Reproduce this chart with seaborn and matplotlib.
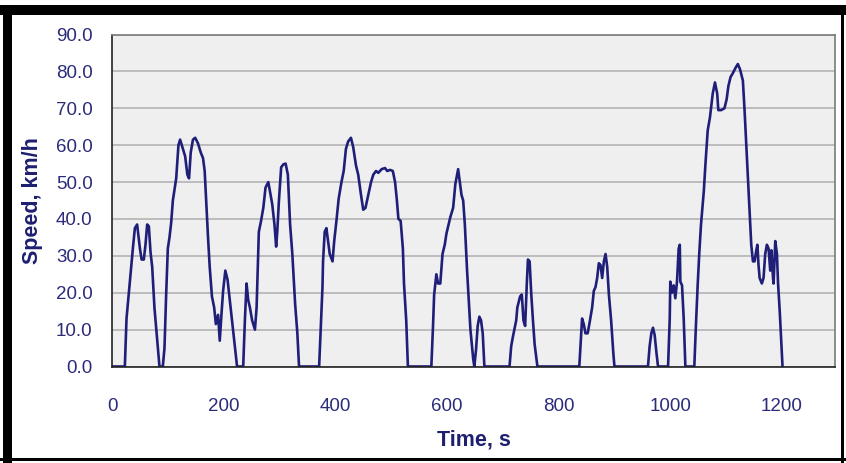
import matplotlib
matplotlib.use("Agg")
import matplotlib.pyplot as plt
import seaborn as sns
import pandas as pd
from matplotlib.patches import Rectangle

# Data (time in s, speed in km/h)
time_s = [0, 23, 26, 32, 38, 41, 45, 47, 50, 53, 57, 60, 63, 66, 69, 72, 76, 81, 85, 91,
          94, 97, 100, 103, 106, 109, 115, 119, 122, 127, 131, 135, 138, 141, 145, 149, 154, 159, 163, 166,
          169, 172, 175, 179, 183, 186, 190, 193, 196, 199, 203, 207, 211, 215, 220, 224, 235, 238, 241, 244,
          247, 251, 256, 259, 261, 263, 267, 271, 275, 280, 283, 287, 291, 294, 296, 299, 303, 307, 311, 315,
          319, 323, 328, 332, 335, 371, 374, 377, 378, 381, 384, 387, 390, 395, 398, 402, 406, 411, 415, 419,
          423, 428, 432, 437, 441, 446, 450, 454, 459, 464, 468, 473, 477, 483, 489, 493, 498, 503, 507, 510,
          513, 517, 521, 523, 527, 530, 572, 575, 577, 581, 584, 588, 592, 596, 599, 603, 606, 611, 615, 620,
          623, 626, 629, 632, 636, 639, 642, 647, 649, 652, 655, 658, 661, 664, 667, 712, 715, 718, 724, 726,
          731, 734, 737, 740, 743, 745, 748, 751, 754, 757, 762, 837, 840, 842, 845, 848, 852, 855, 860, 863,
          866, 869, 872, 875, 878, 881, 884, 887, 890, 894, 898, 900, 960, 963, 966, 969, 972, 975, 978, 996,
          999, 1000, 1003, 1006, 1009, 1012, 1015, 1017, 1018, 1021, 1024, 1027, 1043, 1046, 1049, 1052, 1055, 1060, 1063, 1067,
          1071, 1076, 1080, 1084, 1086, 1091, 1097, 1101, 1104, 1108, 1112, 1117, 1121, 1125, 1130, 1133, 1136, 1139, 1142, 1145,
          1148, 1151, 1154, 1156, 1158, 1160, 1164, 1167, 1170, 1173, 1176, 1179, 1181, 1184, 1185, 1188, 1191, 1193, 1196, 1199,
          1201]
speed_kmh = [0, 0, 13, 23, 33, 37.5, 38.5, 36, 32, 29, 29, 33, 38.5, 38, 31, 27, 16, 7, 0, 0,
             5, 19.5, 32, 35, 39, 45, 51, 60, 61.5, 59, 57, 52, 51, 58, 61.5, 62, 60.5, 58, 56.5, 53,
             44, 35, 27, 19, 16, 11.5, 14, 7, 14, 20.5, 26, 23.5, 18, 12.5, 5.5, 0, 0, 12.5, 22.5, 18,
             16, 12.5, 10, 16, 26, 36.5, 39.5, 43, 48.5, 50, 47.5, 44, 38.5, 32.5, 36.5, 45, 54, 54.8, 55, 52,
             38.5, 30.5, 17, 9, 0, 0, 11, 21.5, 28.5, 36.5, 37.5, 34, 30.5, 28.5, 34, 39.5, 45.5, 50, 53, 59,
             61, 62, 59.5, 54.5, 52, 46.5, 42.5, 43, 46.5, 50, 52, 53, 52.5, 53.5, 53.8, 53, 53.3, 53, 50, 45.5,
             40, 39.5, 32, 22.5, 12.5, 0, 0, 11, 19.5, 25, 22.5, 22.5, 30.5, 33, 36, 38.5, 40.5, 43, 49.5, 53.5,
             50, 46.5, 45, 38.5, 26, 18, 10, 2, 0, 4.5, 11, 13.5, 12.5, 9, 0, 0, 5.5, 8, 12.5, 16,
             19, 19.5, 12.5, 11, 22.5, 29, 28.5, 19.5, 12.5, 6, 0, 0, 8, 13, 11.5, 9, 9, 11.5, 16, 20.5,
             21.5, 24, 28, 27.5, 24, 28.5, 30.5, 27, 19.5, 12.5, 3.5, 0, 0, 5.5, 9, 10.5, 8.5, 4, 0, 0,
             13, 23, 20, 22, 18.5, 23, 32, 33, 23, 22, 13, 0, 0, 11.5, 22, 31, 38.5, 47.5, 55, 64,
             67.5, 74, 77, 74, 69.5, 69.5, 70, 72.5, 76, 78.5, 79.5, 81, 82, 80.5, 77.5, 69.5, 60.5, 51.5, 42.5, 33,
             28.5, 28.5, 31.5, 33, 27.5, 24, 22.5, 24, 30.5, 33, 32, 26, 31.5, 24, 22.5, 34, 30.5, 22.5, 15, 6,
             0]

x_ticks = [0, 200, 400, 600, 800, 1000, 1200]
y_ticks = [0, 10, 20, 30, 40, 50, 60, 70, 80, 90]
x_label = "Time, s"
y_label = "Speed, km/h"

sns.set_style("white")
plt.rcParams['font.family'] = ['Liberation Sans', 'DejaVu Sans']

W, H = 846, 463
fig = plt.figure(figsize=(W / 100, H / 100), dpi=100)
fig.patch.set_facecolor("white")

# plot area in pixel coords
L, R, T, B = 112, 835, 34.5, 366.5
ax = fig.add_axes([L / W, 1 - B / H, (R - L) / W, (B - T) / H])
ax.set_facecolor("#efefef")

df = pd.DataFrame({"t": time_s, "v": speed_kmh})
sns.lineplot(data=df, x="t", y="v", ax=ax, color="#1f1f7a", linewidth=1.9,
             estimator=None, sort=False)

ax.set_xlim(0, 1295)
ax.set_ylim(0, 90)
ax.set_xticks(x_ticks)
ax.set_yticks(y_ticks)
ax.set_xticklabels([str(v) for v in x_ticks])
ax.set_yticklabels([f"{v:.1f}" for v in y_ticks])
ax.yaxis.grid(True, color="#b4b4b4", linewidth=1.2)
ax.xaxis.grid(False)
ax.set_axisbelow(True)

for side in ["left", "bottom"]:
    ax.spines[side].set_color("#222222")
    ax.spines[side].set_linewidth(1.2)
for side in ["top", "right"]:
    ax.spines[side].set_visible(True)
    ax.spines[side].set_color("#7a7a7a")
    ax.spines[side].set_linewidth(1.2)

label_color = "#2b2b7a"
ax.tick_params(axis="both", which="major", direction="out", length=6, width=1.1,
               color="#222222", labelcolor=label_color, labelsize=13.5)
ax.tick_params(axis="x", pad=17)
ax.tick_params(axis="y", pad=8)

ax.set_xlabel(x_label, fontsize=15.5, fontweight="bold", color="#1f1f70", labelpad=10)
ax.set_ylabel(y_label, fontsize=15.5, fontweight="bold", color="#1f1f70", labelpad=9)

# black frame around the figure
def frame(x0, y0, w, h):
    fig.patches.append(Rectangle((x0 / W, 1 - (y0 + h) / H), w / W, h / H,
                                 transform=fig.transFigure, facecolor="black",
                                 edgecolor="none", zorder=10))

frame(0, 5, W, 10)        # top band
frame(3, 5, 9, H - 5)     # left band
frame(0, 458, W, 3)       # bottom line
frame(841, 5, 3, H - 5)   # right line

fig.savefig("out.png", dpi=100, facecolor="white")
